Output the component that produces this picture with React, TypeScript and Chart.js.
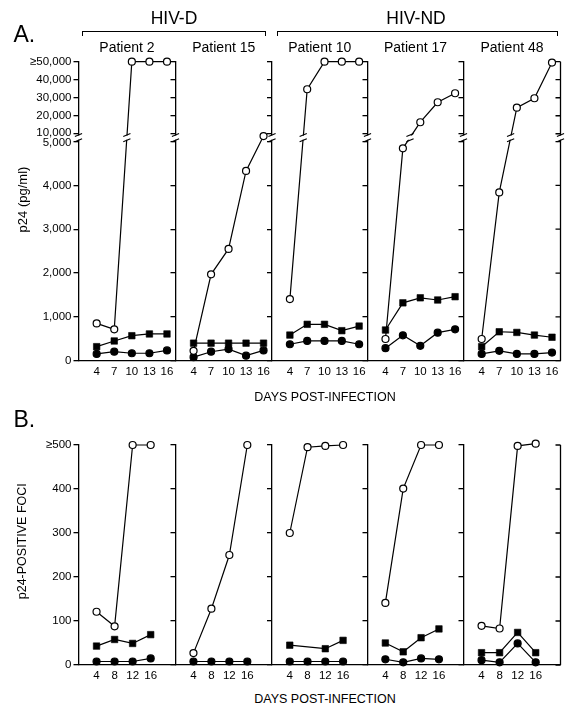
import React, { useEffect, useRef } from 'react';
import { Chart, registerables, LinearScale } from 'chart.js';

Chart.register(...registerables);

// ---------------- data ----------------
const GROUPS = ['HIV-D', 'HIV-ND'];
const PATIENTS = ['Patient 2', 'Patient 15', 'Patient 10', 'Patient 17', 'Patient 48'];
const DAYS_A = [4, 7, 10, 13, 16];
const DAYS_B = [4, 8, 12, 16];
const P24_TICKS = [0, 1000, 2000, 3000, 4000, 5000, 10000, 20000, 30000, 40000, 50000];
const P24_TICK_LABELS = ['0', '1,000', '2,000', '3,000', '4,000', '5,000', '10,000', '20,000', '30,000', '40,000', '≥50,000'];
const FOCI_TICKS = [0, 100, 200, 300, 400, 500];
const FOCI_TICK_LABELS = ['0', '100', '200', '300', '400', '≥500'];
const X_TITLE = 'DAYS POST-INFECTION';
const Y_TITLE_A = 'p24 (pg/ml)';
const Y_TITLE_B = 'p24-POSITIVE FOCI';

// Panel A, p24 (pg/ml); one row per patient (same order as PATIENTS)
const A_OPEN = [
  [850, 715, 50000, 50000, 50000],
  [225, 1970, 2550, 4330, 8500],
  [1405, 34700, 50000, 50000, 50000],
  [495, 4845, 16400, 27500, 32500],
  [495, 3840, 24500, 29700, 49500],
];
const A_SQUARE = [
  [320, 450, 570, 610, 610],
  [400, 400, 400, 400, 400],
  [585, 830, 830, 685, 790],
  [700, 1320, 1435, 1385, 1460],
  [320, 660, 645, 585, 535],
];
const A_FILLED = [
  [155, 205, 170, 170, 235],
  [80, 205, 265, 115, 235],
  [375, 450, 450, 450, 375],
  [285, 580, 340, 640, 715],
  [155, 225, 155, 155, 185],
];

// Panel B, p24-positive foci
const B_OPEN = [
  [121, 88, 500, 500],
  [27, 128, 250, 500],
  [300, 495, 498, 500],
  [141, 401, 500, 500],
  [89, 83, 498, 503],
];
const B_SQUARE = [
  [43, 58, 49, 69],
  [null, null, null, null],
  [45, null, 37, 56],
  [50, 30, 62, 82],
  [28, 28, 74, 28],
];
const B_FILLED = [
  [8, 8, 8, 15],
  [8, 8, 8, 8],
  [8, 8, 8, 8],
  [13, 6, 15, 13],
  [11, 6, 49, 6],
];

// axis break (panel A)
const BREAK_LOW = 5000;
const BREAK_HIGH = 10000;

// ---------------- layout / style ----------------
const FONT = '"Liberation Sans", Arial, Helvetica, sans-serif';
const LOWER_SHARE = 0.733;
const GAP_SHARE = 0.026;
const X_EDGES = [78.5, 175.5, 272, 367.5, 463.5, 560.5];
const FRAMES: any = {
  A: { top: 61.7, bottom: 360.7, canvasTop: 40, canvasBottom: 392, xMin: 0.9, xMax: 17.45 },
  B: { top: 445, bottom: 665, canvasTop: 420, canvasBottom: 692, xMin: 0, xMax: 21.5 },
};

class BrokenScale extends LinearScale {
  static id = 'broken';
  buildTicks() {
    (this as any).start = this.min;
    (this as any).end = this.max;
    return P24_TICKS.map((value) => ({ value }));
  }
  getPixelForValue(value: any) {
    if (value === null || value === undefined || isNaN(value)) return NaN;
    const max = this.max;
    let f;
    if (value <= BREAK_LOW) f = (value / BREAK_LOW) * LOWER_SHARE;
    else if (value <= BREAK_HIGH) f = LOWER_SHARE + ((value - BREAK_LOW) / (BREAK_HIGH - BREAK_LOW)) * GAP_SHARE;
    else f = LOWER_SHARE + GAP_SHARE + ((value - BREAK_HIGH) / (max - BREAK_HIGH)) * (1 - LOWER_SHARE - GAP_SHARE);
    return this.bottom - f * (this.bottom - this.top);
  }
  getValueForPixel(pixel: number) {
    const f = (this.bottom - pixel) / (this.bottom - this.top);
    if (f <= LOWER_SHARE) return (f / LOWER_SHARE) * BREAK_LOW;
    if (f <= LOWER_SHARE + GAP_SHARE) return BREAK_LOW + ((f - LOWER_SHARE) / GAP_SHARE) * (BREAK_HIGH - BREAK_LOW);
    return BREAK_HIGH + ((f - LOWER_SHARE - GAP_SHARE) / (1 - LOWER_SHARE - GAP_SHARE)) * (this.max - BREAK_HIGH);
  }
  _computeLabelItems(chartArea: any) {
    const items = (super._computeLabelItems as any)(chartArea);
    items.forEach((it: any) => {
      if (it.label === '10,000') it.options.translation[1] -= 1.3;
      if (it.label === '5,000') it.options.translation[1] += 1.3;
    });
    return items;
  }
}
Chart.register(BrokenScale as any);

function drawBreak(ctx: CanvasRenderingContext2D, x: number, yb: number) {
  ctx.save();
  ctx.fillStyle = '#fff';
  ctx.fillRect(x - 3, yb - 2.1, 6, 4.2);
  ctx.beginPath();
  for (const dy of [-2.6, 2.6]) {
    ctx.moveTo(x - 3.6, yb + dy + 1.5);
    ctx.lineTo(x + 3.6, yb + dy - 1.5);
  }
  ctx.strokeStyle = '#000';
  ctx.lineWidth = 1.1;
  ctx.stroke();
  ctx.restore();
}

function makeFramePlugin(rightBorder: boolean, broken: boolean) {
  return {
    id: 'subplotFrame',
    afterDatasetsDraw(chart: any) {
      const { ctx, chartArea: a, scales } = chart;
      const y = scales.y;
      ctx.save();
      ctx.strokeStyle = '#000';
      ctx.lineWidth = 1.3;
      if (rightBorder) {
        ctx.beginPath();
        ctx.moveTo(a.right, a.top);
        ctx.lineTo(a.right, a.bottom);
        y.ticks.forEach((t: any) => {
          const py = y.getPixelForValue(t.value);
          ctx.moveTo(a.right, py);
          ctx.lineTo(a.right - 5, py);
        });
        ctx.stroke();
      }
      if (broken) {
        const yb = (y.getPixelForValue(BREAK_LOW) + y.getPixelForValue(BREAK_HIGH)) / 2;
        const xs: number[] = [a.left];
        if (rightBorder) xs.push(a.right);
        chart.data.datasets.forEach((ds: any, di: number) => {
          const pts = chart.getDatasetMeta(di).data;
          for (let k = 0; k + 1 < pts.length; k++) {
            const v0 = ds.data[k].y;
            const v1 = ds.data[k + 1].y;
            if (v0 == null || v1 == null) continue;
            if ((v0 < BREAK_LOW && v1 > BREAK_HIGH) || (v1 < BREAK_LOW && v0 > BREAK_HIGH)) {
              const p0 = pts[k];
              const p1 = pts[k + 1];
              const t = (yb - p0.y) / (p1.y - p0.y);
              xs.push(p0.x + t * (p1.x - p0.x));
            }
          }
        });
        xs.forEach((x) => drawBreak(ctx, x, yb));
      }
      ctx.restore();
    },
  };
}

const lineBase = { borderColor: '#000', borderWidth: 1.2, tension: 0, fill: false, clip: false, spanGaps: true, pointBorderColor: '#000', pointBorderWidth: 1.2 };
const OPEN_STYLE = { ...lineBase, pointStyle: 'circle', pointRadius: 3.5, pointBackgroundColor: '#fff' };
const SQUARE_STYLE = { ...lineBase, pointStyle: 'rect', pointRadius: 4.6, pointBackgroundColor: '#000', pointBorderWidth: 0.6 };
const FILLED_STYLE = { ...lineBase, pointStyle: 'circle', pointRadius: 3.5, pointBackgroundColor: '#000' };

function Subplot({ panel, index }: { panel: 'A' | 'B'; index: number }) {
  const ref = useRef<HTMLCanvasElement>(null);
  const frame = FRAMES[panel];
  const isA = panel === 'A';
  const last = index === PATIENTS.length - 1;
  const left = index === 0 ? 0 : Math.floor(X_EDGES[index]) - 10;
  const width = Math.ceil(X_EDGES[index + 1]) + (last ? 14 : 0) - left;
  const height = frame.canvasBottom - frame.canvasTop;

  useEffect(() => {
    const days = isA ? DAYS_A : DAYS_B;
    const series = isA ? [A_OPEN, A_SQUARE, A_FILLED] : [B_OPEN, B_SQUARE, B_FILLED];
    const styles = [OPEN_STYLE, SQUARE_STYLE, FILLED_STYLE];
    const datasets = series
      .map((s, si) => ({ ...styles[si], data: days.map((d, k) => ({ x: d, y: s[index][k] })) }))
      .filter((ds) => ds.data.some((p) => p.y !== null));
    const ticks = isA ? P24_TICKS : FOCI_TICKS;
    const tickLabels = isA ? P24_TICK_LABELS : FOCI_TICK_LABELS;
    const tickFont = { family: FONT, size: 11.5 };
    const chart = new Chart(ref.current as HTMLCanvasElement, {
      type: 'line',
      data: { datasets } as any,
      options: {
        responsive: false,
        animation: false,
        events: [],
        layout: {
          autoPadding: false,
          padding: { left: 0, right: left + width - X_EDGES[index + 1], top: frame.top - frame.canvasTop, bottom: 0 },
        },
        plugins: { legend: { display: false }, tooltip: { enabled: false } },
        scales: {
          x: {
            type: 'linear',
            min: frame.xMin,
            max: frame.xMax,
            grid: { display: false, drawTicks: false },
            border: { display: true, color: '#000', width: 1.3 },
            ticks: { font: tickFont, color: '#000', padding: 4.4, autoSkip: false, maxRotation: 0, callback: (v: any) => String(v) },
            afterBuildTicks: (s: any) => { s.ticks = days.map((v) => ({ value: v })); },
            afterFit: (s: any) => { s.height = frame.canvasBottom - frame.bottom; s.paddingLeft = 0; s.paddingRight = 0; },
          },
          y: {
            type: isA ? 'broken' : 'linear',
            min: 0,
            max: isA ? 50000 : 500,
            grid: { display: true, drawOnChartArea: false, drawTicks: true, tickLength: 5, color: '#000', lineWidth: 1.3 },
            border: { display: true, color: '#000', width: 1.3 },
            ticks: {
              display: index === 0,
              font: tickFont,
              color: '#000',
              padding: 2,
              autoSkip: false,
              callback: (v: any) => tickLabels[ticks.indexOf(v)] ?? '',
            },
            afterBuildTicks: (s: any) => { if (!isA) s.ticks = FOCI_TICKS.map((v) => ({ value: v })); },
            afterFit: (s: any) => { s.width = X_EDGES[index] - left; s.paddingTop = 0; s.paddingBottom = 0; },
          },
        } as any,
      },
      plugins: [makeFramePlugin(last, isA) as any],
    });
    return () => chart.destroy();
  }, []);

  return (
    <canvas
      ref={ref}
      width={width}
      height={height}
      style={{ position: 'absolute', left, top: frame.canvasTop, width, height }}
    />
  );
}

function Text({ x, baseline, size, text, align = 'center', bold = false }: any) {
  const w = 400;
  const l = align === 'center' ? x - w / 2 : x;
  return (
    <div
      style={{
        position: 'absolute',
        left: l,
        top: baseline - 0.8465 * size,
        width: w,
        fontFamily: FONT,
        fontSize: size,
        lineHeight: `${size}px`,
        textAlign: align,
        whiteSpace: 'nowrap',
        fontWeight: bold ? 'bold' : 'normal',
        color: '#000',
        zIndex: 2,
      }}
    >
      {text}
    </div>
  );
}

function VText({ cx, cy, size, text }: any) {
  const w = 300;
  return (
    <div
      style={{
        position: 'absolute',
        left: cx - w / 2,
        top: cy - size / 2,
        width: w,
        height: size,
        fontFamily: FONT,
        fontSize: size,
        lineHeight: `${size}px`,
        textAlign: 'center',
        whiteSpace: 'nowrap',
        transform: 'rotate(-90deg)',
        transformOrigin: '50% 50%',
        color: '#000',
        zIndex: 2,
      }}
    >
      {text}
    </div>
  );
}

function Bracket({ x1, x2, y, drop }: any) {
  return (
    <div
      style={{
        position: 'absolute',
        left: x1,
        top: y,
        width: x2 - x1,
        height: drop,
        borderTop: '1.2px solid #000',
        borderLeft: '1.2px solid #000',
        borderRight: '1.2px solid #000',
        boxSizing: 'border-box',
        zIndex: 2,
      }}
    />
  );
}

export default function App() {
  const centers = PATIENTS.map((_, i) => (X_EDGES[i] + X_EDGES[i + 1]) / 2);
  return (
    <div style={{ position: 'absolute', left: 0, top: 0, width: 575, height: 715, overflow: 'hidden', background: '#fff' }}>
      {PATIENTS.map((_, i) => <Subplot key={'A' + i} panel="A" index={i} />)}
      {PATIENTS.map((_, i) => <Subplot key={'B' + i} panel="B" index={i} />)}

      <Text x={13.5} baseline={42.3} size={23} text="A." align="left" />
      <Text x={13.5} baseline={427.3} size={23} text="B." align="left" />

      <Text x={174} baseline={25} size={17.5} text={GROUPS[0]} />
      <Text x={416} baseline={25} size={17.5} text={GROUPS[1]} />
      <Bracket x1={81.5} x2={265.5} y={30.5} drop={5.5} />
      <Bracket x1={277} x2={557.5} y={30.5} drop={5.5} />

      {PATIENTS.map((p, i) => <Text key={p} x={centers[i]} baseline={52.3} size={14} text={p} />)}

      <Text x={325} baseline={402} size={12.5} text={X_TITLE} />
      <Text x={325} baseline={704} size={12.5} text={X_TITLE} />
      <VText cx={22} cy={199} size={13} text={Y_TITLE_A} />
      <VText cx={22} cy={541.5} size={12.5} text={Y_TITLE_B} />
    </div>
  );
}
